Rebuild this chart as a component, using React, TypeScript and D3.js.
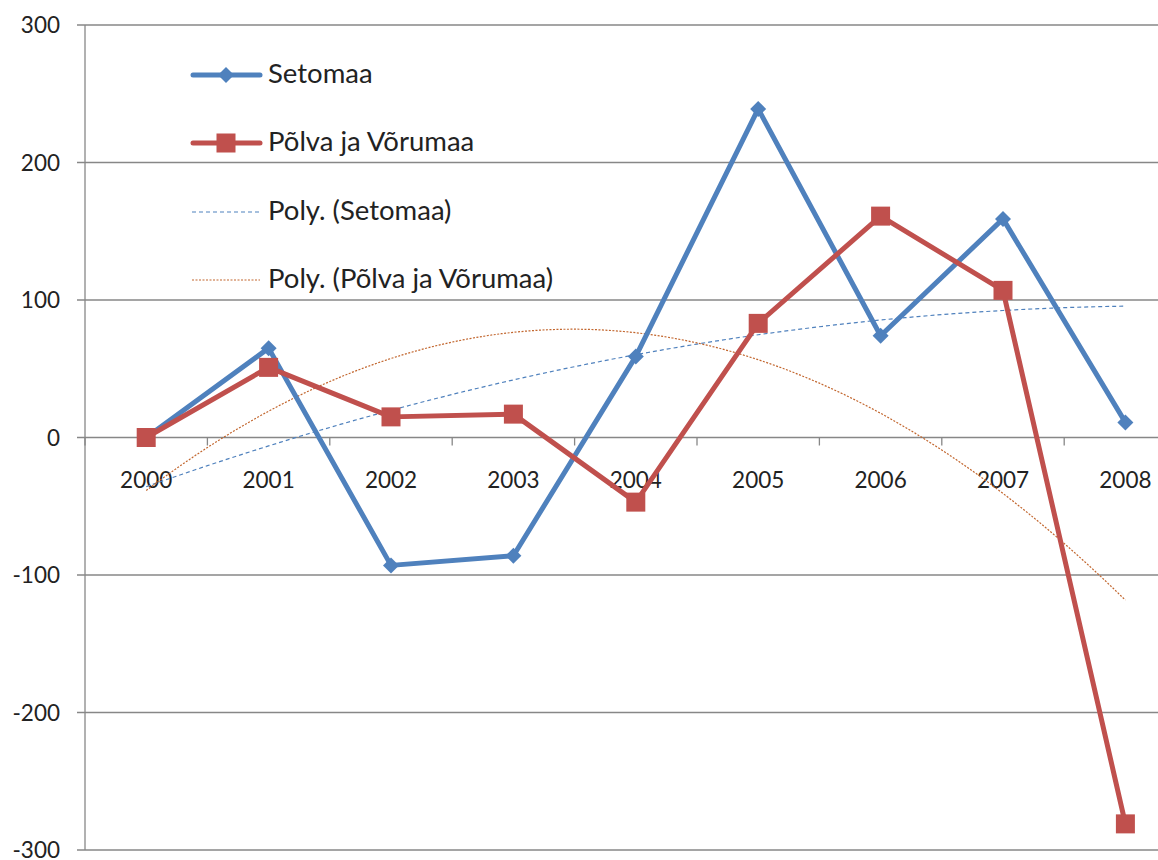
import React from 'react';
import { scaleBand, scaleLinear, line, range } from 'd3';

const width = 1158;
const height = 860;
const left = 85;
const top = 25;
const bottom = 850;
const step = 122.4;

const years = ['2000', '2001', '2002', '2003', '2004', '2005', '2006', '2007', '2008'];
const setomaa = [0, 65, -93, -86, 59, 239, 74, 159, 11];
const polva = [0, 51, 15, 17, -47, 83, 161, 107, -281];
const yTicks = [300, 200, 100, 0, -100, -200, -300];

const blue = '#4F81BD';
const red = '#C0504D';
const orange = '#C2662E';
const font = 'Lato, "Open Sans", sans-serif';

const x = scaleBand<string>().domain(years).range([left, left + step * years.length]);
const y = scaleLinear().domain([-300, 300]).range([bottom, top]);
const cx = (i: number) => (x(years[i]) as number) + x.bandwidth() / 2;

// order-2 least squares fit, as the spreadsheet's "Poly." trendline
const polyFit = (vals: number[]) => {
  const m = [0, 1, 2].map(r => [0, 1, 2].map(c => vals.reduce((s, _, i) => s + Math.pow(i, r + c), 0)));
  const b = [0, 1, 2].map(r => vals.reduce((s, v, i) => s + v * Math.pow(i, r), 0));
  for (let p = 0; p < 3; p++) {
    for (let r = p + 1; r < 3; r++) {
      const f = m[r][p] / m[p][p];
      for (let c = p; c < 3; c++) m[r][c] -= f * m[p][c];
      b[r] -= f * b[p];
    }
  }
  const k = [0, 0, 0];
  for (let r = 2; r >= 0; r--) {
    let s = b[r];
    for (let c = r + 1; c < 3; c++) s -= m[r][c] * k[c];
    k[r] = s / m[r][r];
  }
  return (t: number) => k[0] + k[1] * t + k[2] * t * t;
};

const trendPts = (vals: number[]) => {
  const f = polyFit(vals);
  return range(0, 8.001, 0.1).map(t => ({ px: cx(0) + t * step, v: f(t) }));
};

const dataLine = line<number>().x((_, i) => cx(i)).y(d => y(d));
const trendLine = line<{ px: number; v: number }>().x(d => d.px).y(d => y(d.v));

const diamond = (px: number, py: number, r: number) =>
  `M${px},${py - r}L${px + r},${py}L${px},${py + r}L${px - r},${py}Z`;

const legend = [
  { label: 'Setomaa', kind: 'seto', ly: 75 },
  { label: 'Põlva ja Võrumaa', kind: 'polva', ly: 143 },
  { label: 'Poly. (Setomaa)', kind: 'tseto', ly: 212 },
  { label: 'Poly. (Põlva ja Võrumaa)', kind: 'tpolva', ly: 280 },
];

export default function App() {
  return (
    <svg width={width} height={height} style={{ position: 'absolute', left: 0, top: 0, background: '#fff' }}>
      <rect width={width} height={height} fill="#fff" />
      {yTicks.map(t => (
        <g key={t}>
          <line x1={77} x2={width} y1={y(t)} y2={y(t)} stroke="#878787" strokeWidth={1.3} />
          <text x={60} y={y(t)} dy="0.36em" textAnchor="end" fontFamily={font} fontSize={22.5} fill="#222">{t}</text>
        </g>
      ))}
      <line x1={left} x2={left} y1={top} y2={bottom} stroke="#878787" strokeWidth={1.3} />
      {range(years.length + 1).map(i => (
        <line key={i} x1={left + i * step} x2={left + i * step} y1={y(0)} y2={y(0) + 8} stroke="#878787" strokeWidth={1.3} />
      ))}
      {years.map((yr, i) => (
        <text key={yr} x={cx(i)} y={488} textAnchor="middle" fontFamily={font} fontSize={22.5} fill="#222">{yr}</text>
      ))}

      <path d={trendLine(trendPts(setomaa)) as string} fill="none" stroke={blue} strokeWidth={1.2} strokeDasharray="4 3" />
      <path d={trendLine(trendPts(polva)) as string} fill="none" stroke={orange} strokeWidth={1.2} strokeDasharray="2 1.5" />

      <path d={dataLine(setomaa) as string} fill="none" stroke={blue} strokeWidth={5} strokeLinejoin="round" />
      {setomaa.map((v, i) => (
        <path key={i} d={diamond(cx(i), y(v), 8)} fill={blue} />
      ))}
      <path d={dataLine(polva) as string} fill="none" stroke={red} strokeWidth={5} strokeLinejoin="round" />
      {polva.map((v, i) => (
        <rect key={i} x={cx(i) - 9.5} y={y(v) - 9.5} width={19} height={19} fill={red} />
      ))}

      {legend.map(l => (
        <g key={l.label}>
          {l.kind === 'seto' && <>
            <line x1={193} x2={260} y1={l.ly} y2={l.ly} stroke={blue} strokeWidth={5} strokeLinecap="round" />
            <path d={diamond(226, l.ly, 8)} fill={blue} />
          </>}
          {l.kind === 'polva' && <>
            <line x1={193} x2={260} y1={l.ly} y2={l.ly} stroke={red} strokeWidth={5} strokeLinecap="round" />
            <rect x={216.5} y={l.ly - 9.5} width={19} height={19} fill={red} />
          </>}
          {l.kind === 'tseto' && <line x1={192} x2={260} y1={l.ly} y2={l.ly} stroke={blue} strokeWidth={1.2} strokeDasharray="4 3" />}
          {l.kind === 'tpolva' && <line x1={192} x2={260} y1={l.ly} y2={l.ly} stroke={orange} strokeWidth={1.2} strokeDasharray="2 1.5" />}
          <text x={268} y={l.ly} dy="0.3em" fontFamily={font} fontSize={27.5} fill="#222">{l.label}</text>
        </g>
      ))}
    </svg>
  );
}
